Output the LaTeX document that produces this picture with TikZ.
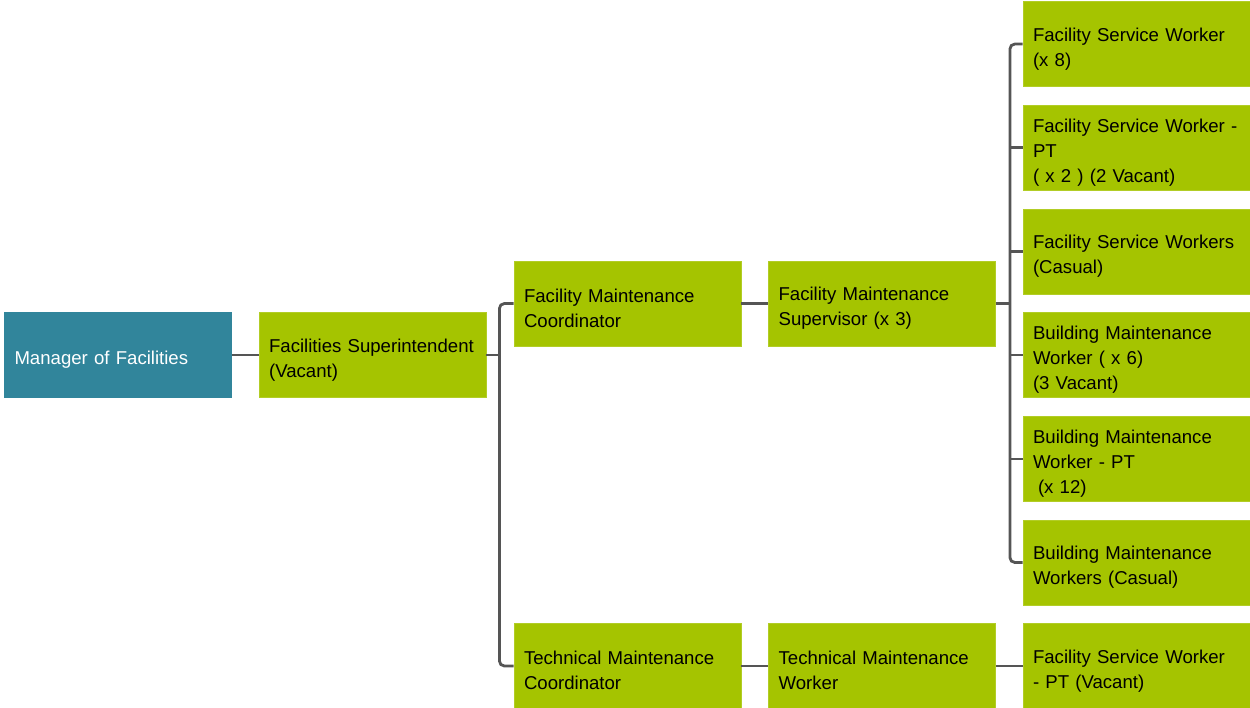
\documentclass[tikz,border=0pt]{standalone}
\usepackage{fontspec}
\setmainfont{Liberation Sans}
\usetikzlibrary{positioning}
\definecolor{leafgreen}{RGB}{165,196,0}
\definecolor{headteal}{RGB}{49,133,155}
\definecolor{linkgray}{RGB}{85,85,85}
\tikzset{
box/.style={rectangle, fill=leafgreen, draw=leafgreen!85!white, line width=0.3pt,
  minimum width=113.5pt, minimum height=42.5pt, inner xsep=5pt, inner ysep=2pt,
  text width=103.5pt, align=left, font=\fontsize{9.3pt}{12.5pt}\selectfont,
  execute at begin node={\rule{0pt}{11.5pt}}},
headbox/.style={box, fill=headteal, draw=headteal, text=white},
link/.style={draw=linkgray, line width=1.4pt},
bracket/.style={link, rounded corners=2.5pt}
}

\begin{document}
\begin{tikzpicture}[x=0.5pt,y=-0.5pt]
\useasboundingbox (0,0) rectangle (1250,708);
\node[headbox] (mgr) at (118,355) {Manager of Facilities};
\node[box,right=13.5pt of mgr] (sup) {Facilities Superintendent\\(Vacant)};
\node[box] (fmc) at (627.5,303.5) {Facility Maintenance\\Coordinator};
\node[box,right=13.5pt of fmc] (fms) {Facility Maintenance\\Supervisor (x 3)};
\node[box] (tmc) at (627.5,666) {Technical Maintenance\\Coordinator};
\node[box,right=13.5pt of tmc] (tmw) {Technical Maintenance\\Worker};
\node[box] (fswv) at (1136.5,666) {Facility Service Worker\\- PT (Vacant)};
% right column
\node[box] (w1) at (1136.5,44) {Facility Service Worker\\(x 8)};
\node[box] (w2) at (1136.5,147.5) {Facility Service Worker -\\PT\\( x 2 ) (2 Vacant)};
\node[box] (w3) at (1136.5,251.5) {Facility Service Workers\\(Casual)};
\node[box] (w4) at (1136.5,355) {Building Maintenance\\Worker ( x 6)\\(3 Vacant)};
\node[box] (w5) at (1136.5,459) {Building Maintenance\\Worker - PT\\\hspace*{2.5pt}(x 12)};
\node[box] (w6) at (1136.5,562.5) {Building Maintenance\\Workers (Casual)};

\draw[link] (mgr) -- (sup);
\draw[link] (sup.east) -- ++(6.5pt,0) coordinate (jsup);
\draw[bracket] (fmc.west) -| (jsup) |- (tmc.west);
\draw[link] (fmc) -- (fms);
\draw[link] (tmc) -- (tmw);
\draw[link] (tmw) -- (fswv);
\draw[link] (fms.east) -- ++(7pt,0) coordinate (jfms);
\draw[bracket] (w1.west) -| (jfms) |- (w6.west);
\foreach \w in {w2,w3,w4,w5}
  \draw[link] (jfms |- \w.west) -- (\w.west);
\end{tikzpicture}
\end{document}
